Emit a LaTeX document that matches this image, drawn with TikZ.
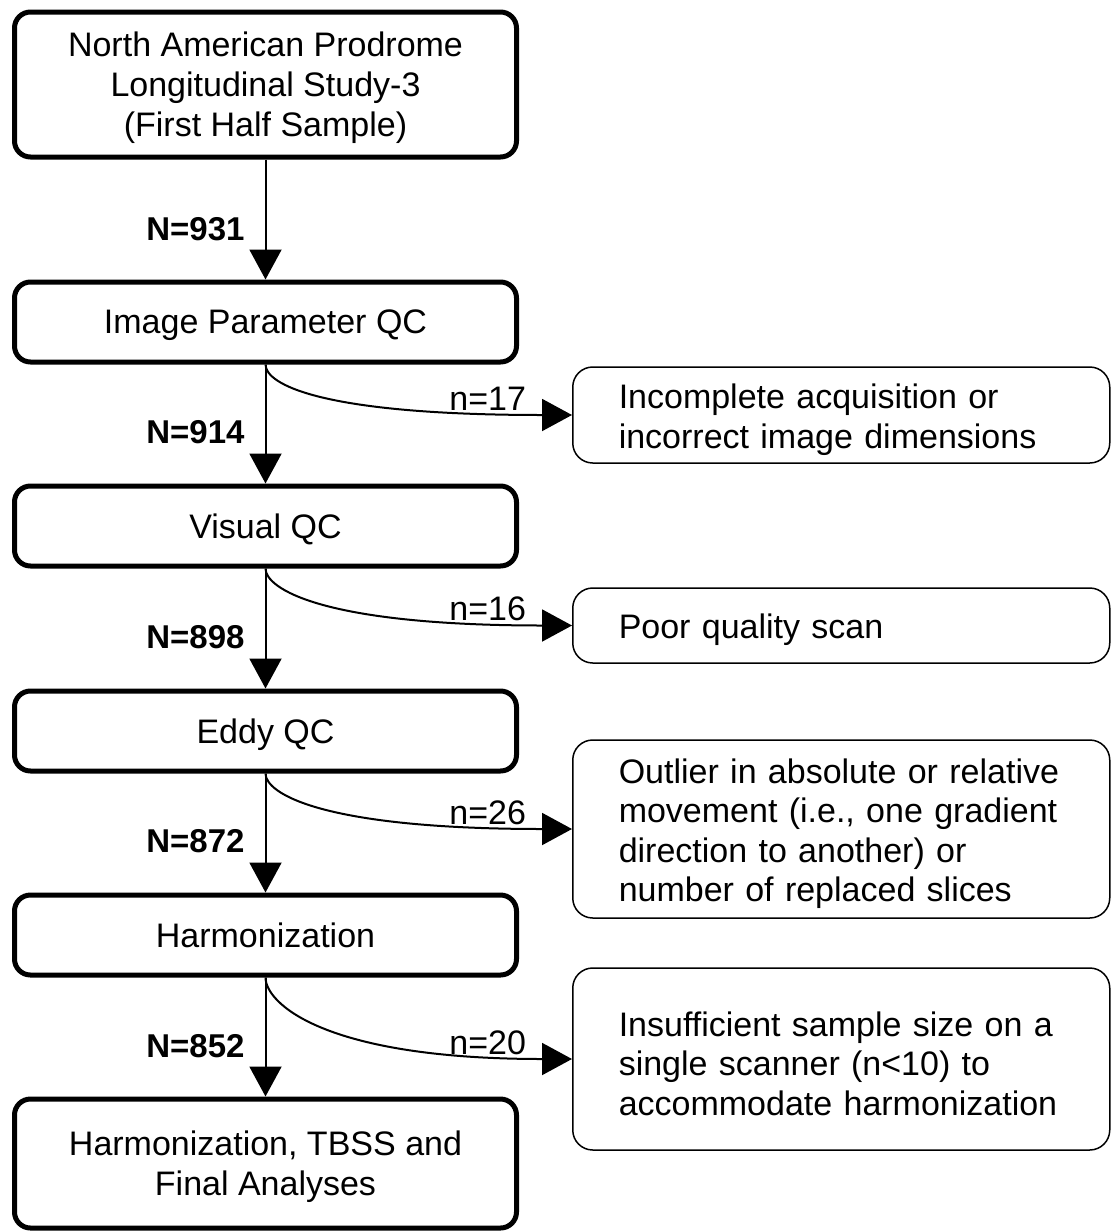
\documentclass[tikz,border=0pt]{standalone}
\usepackage{fontspec}
\setmainfont{Liberation Sans}
\usetikzlibrary{arrows.meta}
\begin{document}
\begin{tikzpicture}[x=1pt,y=-1pt,
    stage/.style={draw,line width=5pt,rounded corners=16pt,minimum width=502pt,
      minimum height=80pt,inner sep=0pt,text depth=0pt,align=center,font=\fontsize{34}{40}\selectfont},
    excl/.style={draw,line width=1.5pt,rounded corners=20pt,anchor=west,text width=445pt,
      inner xsep=46pt,inner ysep=0pt,align=left,font=\fontsize{34}{39.5}\selectfont,
      execute at begin node={\rule{0pt}{34pt}}},
    flow/.style={line width=2pt,-{Triangle[length=30pt,width=32pt]}},
    count/.style={font=\fontsize{33}{40}\selectfont\bfseries,anchor=east,inner sep=0pt,xshift=-20pt},
    drop/.style={font=\fontsize{34}{40}\selectfont,anchor=base east,inner sep=0pt,
      xshift=-45pt,yshift=5pt}]
    \useasboundingbox (0,0) rectangle (1111,1232);

    \node [stage,minimum height=145pt] (b1) at (265.5, 84.5)
    {North American Prodrome\\Longitudinal Study-3\\(First Half Sample)};
    \node [stage] (b2) at (265.5, 322) {Image Parameter QC};
    \node [stage] (b3) at (265.5, 526) {Visual QC};
    \node [stage] (b4) at (265.5, 731) {Eddy QC};
    \node [stage] (b5) at (265.5, 935) {Harmonization};
    \node [stage,minimum height=129pt] (b6) at (265.5, 1163.5)
    {Harmonization, TBSS and\\Final Analyses};

    \node [excl,minimum height=96pt] (s1) at (572, 415)
    {Incomplete acquisition or\\incorrect image dimensions};
    \node [excl,minimum height=75pt] (s2) at (572, 625.5) {Poor quality scan};
    \node [excl,minimum height=178pt] (s3) at (572, 829)
    {Outlier in absolute or relative\\movement (i.e., one gradient\\direction to another) or\\number of replaced slices};
    \node [excl,minimum height=182pt] (s4) at (572, 1059)
    {Insufficient sample size on a\\single scanner (n<10) to\\accommodate harmonization};

    \draw [flow] (b1) -- node [count,pos=0.58] (c1) {N=931} (b2);
    \draw [flow] (b2) -- node [count,pos=0.57] (c2) {N=914} (b3);
    \draw [flow] (b3) -- node [count,pos=0.57] (c3) {N=898} (b4);
    \draw [flow] (b4) -- node [count,pos=0.57] (c4) {N=872} (b5);
    \draw [flow] (b5) -- node [count,pos=0.58] (c5) {N=852} (b6);

    \draw [flow] (b2.south) .. controls +(0,20) and +(-250,0) ..
    node [drop,at end] (d1) {n=17} (s1.west);
    \draw [flow] (b3.south) .. controls +(0,20) and +(-250,0) ..
    node [drop,at end] (d2) {n=16} (s2.west);
    \draw [flow] (b4.south) .. controls +(0,20) and +(-250,0) ..
    node [drop,at end] (d3) {n=26} (s3.west);
    \draw [flow] (b5.south) .. controls +(0,25) and +(-250,0) ..
    node [drop,at end] (d4) {n=20} (s4.west);
  \end{tikzpicture}
\end{document}
